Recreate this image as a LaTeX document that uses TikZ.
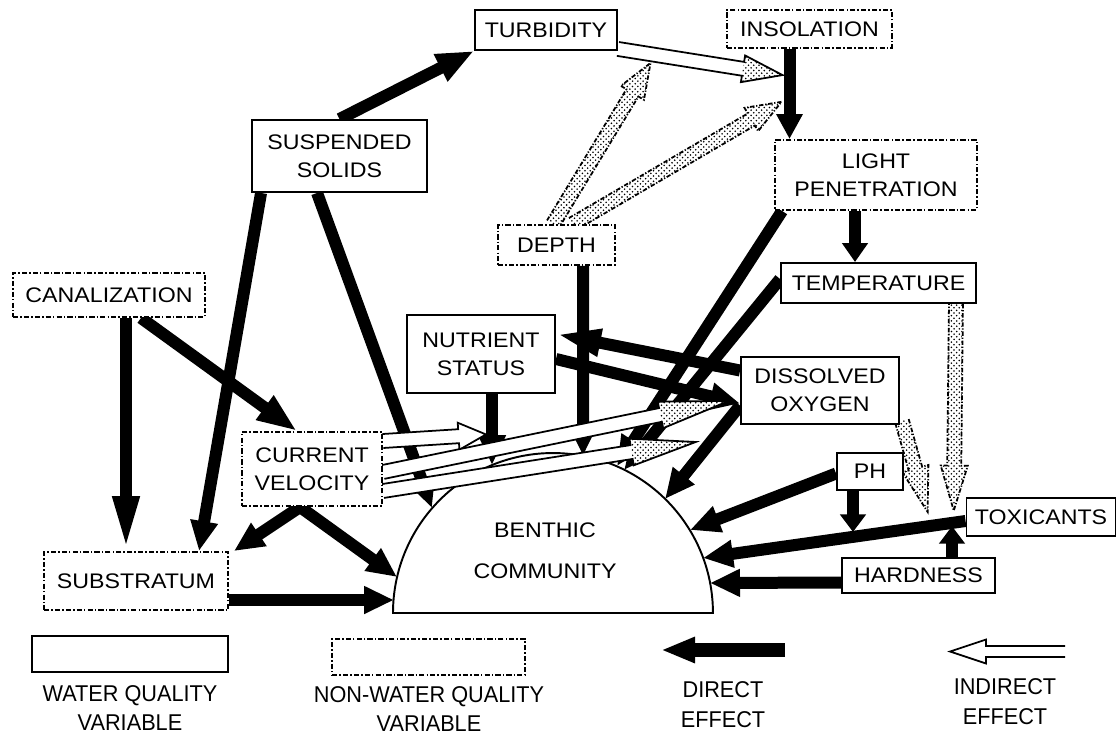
\documentclass[tikz,border=0pt]{standalone}
\usepackage{fontspec}
\setmainfont{Liberation Sans}[FakeStretch=1.1]
\newfontfamily\legfont{Liberation Sans}[FakeStretch=0.95]
\usetikzlibrary{arrows.meta,calc,patterns,backgrounds}

\newcommand{\hsw}{0.14cm}
\newcommand{\hhw}{0.27cm}
% #1 outline style, #2 shaft fill, #3 head fill, #4 head length, #5 start, #6 tip
\newcommand{\hollowarrow}[6]{%
  \coordinate (hA) at (#5);
  \coordinate (hB) at (#6);
  \coordinate (hC) at ($(hB)!#4!(hA)$);
  \coordinate (hA1) at ($(hA)!\hsw!90:(hB)$);
  \coordinate (hA2) at ($(hA)!\hsw!-90:(hB)$);
  \coordinate (hC1) at ($(hC)!\hsw!-90:(hA)$);
  \coordinate (hC2) at ($(hC)!\hsw!90:(hA)$);
  \coordinate (hH1) at ($(hC)!\hhw!-90:(hA)$);
  \coordinate (hH2) at ($(hC)!\hhw!90:(hA)$);
  \fill[white] (hA1) -- (hC1) -- (hH1) -- (hB) -- (hH2) -- (hC2) -- (hA2) -- cycle;
  \fill[#2] (hA1) -- (hC1) -- (hC2) -- (hA2) -- cycle;
  \fill[#3] (hH1) -- (hB) -- (hH2) -- cycle;
  \draw[#1] (hA1) -- (hC1) -- (hH1) -- (hB) -- (hH2) -- (hC2) -- (hA2);
}

\begin{document}
\begin{tikzpicture}[x=0.02cm, y=-0.02cm,
  wq/.style={draw, line width=1.1pt, fill=white, inner sep=1pt, align=center,
             font=\fontsize{12}{16}\selectfont},
  nwq/.style={wq, dash pattern=on 3pt off 1.2pt on 0.8pt off 1.2pt},
  direct/.style={line width=0.24cm, -{Triangle[length=0.6cm,width=0.52cm]}},
  shorthead/.style={-{Triangle[length=0.35cm,width=0.5cm]}},
  hsolid/.style={line width=1pt, line join=miter},
  hdash/.style={line width=1pt, dash pattern=on 2.5pt off 1pt on 0.7pt off 1pt},
  stip/.style={pattern=crosshatch dots, pattern color=black},
  leg/.style={align=center, font=\legfont\fontsize{13}{17}\selectfont}
]
\useasboundingbox (0,0) rectangle (1118,740);

% ---------- boxes ----------
\node[wq,  minimum width=2.84cm, minimum height=0.8cm]  (turb)  at (546,30)    {TURBIDITY};
\node[nwq, minimum width=3.3cm,  minimum height=0.76cm] (insol) at (809.5,29)  {INSOLATION};
\node[wq,  minimum width=3.5cm,  minimum height=1.44cm] (ss)    at (339.5,156) {SUSPENDED\\SOLIDS};
\node[nwq, minimum width=2.34cm, minimum height=0.8cm]  (depth) at (556.5,245) {DEPTH};
\node[nwq, minimum width=4.04cm, minimum height=1.4cm]  (lp)    at (876,175)   {LIGHT\\PENETRATION};
\node[wq,  minimum width=3.9cm,  minimum height=0.8cm]  (temp)  at (878.5,283) {TEMPERATURE};
\node[nwq, minimum width=3.84cm, minimum height=0.88cm] (canal) at (109,295)   {CANALIZATION};
\node[wq,  minimum width=2.96cm, minimum height=1.56cm] (ns)    at (481,354)   {NUTRIENT\\STATUS};
\node[wq,  minimum width=3.16cm, minimum height=1.34cm] (do)    at (820,390.5) {DISSOLVED\\OXYGEN};
\node[nwq, minimum width=2.8cm,  minimum height=1.48cm] (cv)    at (312,469)   {CURRENT\\VELOCITY};
\node[wq,  minimum width=1.32cm, minimum height=0.74cm] (ph)    at (870,471.5) {PH};
\node[wq,  minimum width=2.98cm, minimum height=0.76cm] (tox)   at (1041,517)  {TOXICANTS};
\node[wq,  minimum width=3.06cm, minimum height=0.7cm]  (hard)  at (918.5,575.5) {HARDNESS};
\node[nwq, minimum width=3.68cm, minimum height=1.16cm] (sub)   at (136,581)   {SUBSTRATUM};

% ---------- legend ----------
\node[wq,  minimum width=3.92cm, minimum height=0.72cm] (lg1) at (130,654) {};
\node[nwq, minimum width=3.86cm, minimum height=0.72cm] (lg2) at (428.5,657) {};
\node[leg] (lt1) at (130,708)  {WATER QUALITY\\VARIABLE};
\node[leg] (lt2) at (429,709)  {NON-WATER QUALITY\\VARIABLE};
\node[leg] (lt3) at (723,705)  {DIRECT\\EFFECT};
\node[leg] (lt4) at (1005,702) {INDIRECT\\EFFECT};

\begin{pgfonlayer}{background}
% ---------- benthic community ----------
\draw[line width=1.1pt, fill=white] (393,613) arc[start angle=180, end angle=0, radius=3.2cm] -- cycle;
\node[font=\fontsize{12}{23.5}\selectfont, align=center] (ben) at (545,551) {BENTHIC\\COMMUNITY};
\coordinate (bSS)   at (432,508);
\coordinate (bCV)   at (397,577);
\coordinate (bSub)  at (394,600);
\coordinate (bDep)  at (583,456);
\coordinate (bNS)   at (492,465);
\coordinate (bLP)   at (617,466);
\coordinate (bTemp) at (624,470);
\coordinate (bDO)   at (665,499);
\coordinate (bPH)   at (690,530);
\coordinate (bTox)  at (703,558);
\coordinate (bHard) at (710,583);

% ---------- direct effects ----------
\draw[direct, -{Triangle[length=0.75cm,width=0.56cm]}] (ss.north) -- (turb.south west);
\coordinate (is) at ($(insol.south)+(-20,0)$);
\draw[direct, -{Triangle[length=0.5cm,width=0.5cm]}] (is) -- coordinate[pos=0.29] (il1) coordinate[pos=0.587] (il2) (is |- lp.north);
\coordinate (ls) at ($(lp.south)+(-21,0)$);
\draw[direct, -{Triangle[length=0.38cm,width=0.5cm]}] (ls) -- (ls |- temp.north);
\draw[direct] ($(ss.south west)+(10,0)$) -- ($(sub.north west)+(156,0)$);
\draw[direct] ($(ss.south west)+(66,0)$) -- (bSS);
\coordinate (cs) at ($(canal.south)+(17,0)$);
\draw[direct, -{Triangle[length=1.1cm,width=0.48cm]}] (cs) -- (cs |- sub.north);
\draw[direct, -{Triangle[length=0.8cm,width=0.55cm]}] ($(canal.south)+(32,0)$) -- ($(cv.north)+(-15,0)$);
\draw[direct] ($(cv.south)+(-12,0)$) -- ($(sub.north east)+(5,0)$);
\draw[direct] ($(cv.south)+(-12,0)$) -- (bCV);
\draw[direct] ($(sub.east)+(0,19)$) -- (bSub);
\draw[direct] ($(depth.south)+(26.5,0)$) -- (bDep);
\draw[direct] ($(ns.south)+(11,0)$) -- coordinate[pos=0.57] (nsb) (bNS);
\draw[direct, -{Triangle[length=0.9cm,width=0.5cm]}] ($(do.west)+(0,-20)$) -- ($(ns.east)+(0,-20)$);
\draw[direct] ($(ns.east)+(0,5)$) -- coordinate[pos=0.94] (ndo) ($(do.west)+(0,13)$);
\draw[direct] ($(lp.south west)+(8,0)$) -- (bLP);
\draw[direct] ($(temp.west)+(0,-4)$) -- (bTemp);
\draw[direct] ($(do.west)+(0,15)$) -- coordinate[pos=0.39] (dob) (bDO);
\draw[direct] ($(ph.west)+(0,2)$) -- (bPH);
\draw[direct] ($(tox.west)+(0,4)$) -- coordinate[pos=0.045] (tx1) coordinate[pos=0.057] (tx2)
      coordinate[pos=0.133] (tx3) coordinate[pos=0.432] (tx4) (bTox);
\draw[direct] ($(hard.west)+(0,7)$) -- (bHard);
\coordinate (ps) at ($(ph.south)+(-17,0)$);
\draw[direct, shorthead, shorten >=0.1cm] (ps) -- (ps |- tx4);
\coordinate (hs) at ($(hard.north)+(33.5,0)$);
\draw[direct, shorthead, shorten >=0.06cm] (hs) -- (hs |- tx2);

% ---------- indirect effects ----------
\coordinate (ts) at ($(turb.south east)+(0,-2)$);
\coordinate (ti1) at ($(ts)!0.19!(il1)$);
\hollowarrow{hsolid}{white}{stip}{0.8cm}{ts}{$(il1)+(-7,0)$}
\hollowarrow{hdash}{stip}{stip}{0.7cm}{$(depth.north)+(-3.5,0)$}{$(ti1)+(0,9)$}
\hollowarrow{hdash}{stip}{stip}{0.7cm}{$(depth.north)+(16,0)$}{$(il2)+(-8,0)$}
\hollowarrow{hsolid}{white}{white}{0.55cm}{$(cv.east)+(0,-28)$}{$(nsb)+(-6,0)$}
\hollowarrow{hsolid}{white}{stip}{1.4cm}{$(cv.east)+(0,3)$}{ndo}
\hollowarrow{hsolid}{white}{stip}{1.3cm}{$(cv.east)+(0,22)$}{$(dob)+(-15,0)$}
\hollowarrow{hdash}{stip}{stip}{0.9cm}{$(do.south east)+(2,-4)$}{$(tx3)+(-3,-14)$}
\coordinate (tsx) at ($(temp.south east)+(-21,0)$);
\hollowarrow{hdash}{stip}{stip}{0.9cm}{tsx}{$(tx1)+(0,-12)$}

% ---------- legend arrows ----------
\coordinate (ld1) at (785,650);
\coordinate (ld2) at (661,650);
\draw[direct, line width=0.28cm, -{Triangle[length=0.68cm,width=0.48cm]}] (ld1) -- (ld2);
\coordinate (li1) at (1065,651.5);
\coordinate (li2) at (950,651.5);
{\renewcommand{\hsw}{0.11cm}\renewcommand{\hhw}{0.24cm}%
 \hollowarrow{hsolid}{white}{white}{0.72cm}{li1}{li2}}
\end{pgfonlayer}
\end{tikzpicture}
\end{document}
